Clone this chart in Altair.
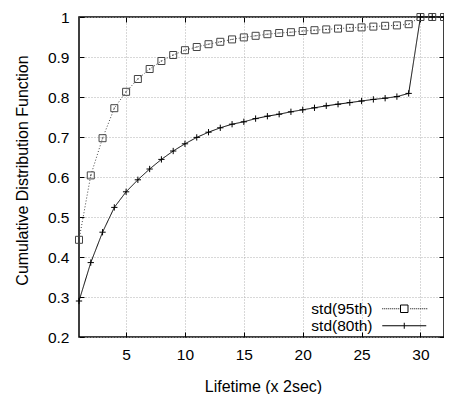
import altair as alt
import pandas as pd

# ---- data ----
lifetime = list(range(1, 33))
std95 = [0.443, 0.604, 0.697, 0.772, 0.813, 0.845, 0.870, 0.890, 0.905, 0.917,
         0.925, 0.932, 0.938, 0.944, 0.949, 0.953, 0.957, 0.960, 0.962, 0.965,
         0.967, 0.969, 0.971, 0.973, 0.974, 0.976, 0.978, 0.979, 0.982, 1.0,
         1.0, 1.0]
std80 = [0.290, 0.386, 0.462, 0.524, 0.563, 0.593, 0.620, 0.644, 0.665, 0.683,
         0.699, 0.712, 0.723, 0.732, 0.738, 0.746, 0.752, 0.757, 0.763, 0.768,
         0.773, 0.778, 0.782, 0.786, 0.790, 0.794, 0.797, 0.801, 0.809, 1.0,
         1.0, 1.0]
series_names = ["std(95th)", "std(80th)"]
x_ticks = [5, 10, 15, 20, 25, 30]
y_ticks = [0.2, 0.3, 0.4, 0.5, 0.6, 0.7, 0.8, 0.9, 1.0]

df = pd.DataFrame({
    "lifetime": lifetime * 2,
    "cdf": std95 + std80,
    "series": [series_names[0]] * len(lifetime) + [series_names[1]] * len(lifetime),
})

FONT = "Liberation Sans"
W, H = 365, 320

# ---- marker / legend symbol paths (style) ----
square_path = "M-1,-1H1V1H-1Z M-0.2,0H0.2"
plus_path = "M-0.9,0H0.9M0,-0.9V0.9"

dots = []
xpos = -4.4
while xpos < 4.4:
    if abs(xpos) > 1.0 and abs(xpos + 0.2) > 1.0:
        dots.append("M%.2f,0H%.2f" % (xpos, xpos + 0.2))
    xpos += 0.4
leg95_path = " ".join(dots) + " M-0.75,-0.75H0.75V0.75H-0.75Z"
leg80_path = "M-4.4,0H4.4M0,-0.6V0.6"


def tick_axis(orient, values):
    return alt.Axis(orient=orient, values=values, offset={"expr": "-5"},
                    ticks=True, tickSize=5, tickColor="black", tickWidth=1,
                    labels=False, grid=False, domain=False, title=None)


x_main = alt.X("lifetime:Q",
               scale=alt.Scale(domain=[1, 32], nice=False, zero=False),
               axis=alt.Axis(orient="bottom", values=x_ticks, title="Lifetime (x 2sec)",
                             titleX=184, titleY=49, titleBaseline="middle",
                             titleAlign="center"))
y_main = alt.Y("cdf:Q",
               scale=alt.Scale(domain=[0.2, 1.0], nice=False, zero=False),
               axis=alt.Axis(orient="left", values=y_ticks, format="~g",
                             title="Cumulative Distribution Function",
                             titleX=-56.5, titleY=153, titleAngle=270,
                             titleBaseline="middle", titleAlign="center"))

color_scale = alt.Scale(domain=series_names, range=["#444444", "#000000"])

lines = alt.Chart(df).mark_line(strokeWidth=1, clip=False).encode(
    x=x_main, y=y_main,
    color=alt.Color("series:N", scale=color_scale, legend=None),
    strokeDash=alt.StrokeDash("series:N",
                              scale=alt.Scale(domain=series_names, range=[[1, 2], [1, 0]]),
                              legend=None),
)

points = alt.Chart(df).mark_point(filled=False, strokeWidth=1, size=49, opacity=1, clip=False).encode(
    x=alt.X("lifetime:Q", axis=tick_axis("top", x_ticks)),
    y=alt.Y("cdf:Q", axis=tick_axis("right", y_ticks)),
    color=alt.Color("series:N", scale=color_scale, legend=None),
    shape=alt.Shape("series:N",
                    scale=alt.Scale(domain=series_names, range=[square_path, plus_path]),
                    legend=None),
)

legend_layer = alt.Chart(df).mark_point(filled=False, opacity=0).encode(
    x=alt.X("lifetime:Q", axis=tick_axis("bottom", x_ticks)),
    y=alt.Y("cdf:Q", axis=tick_axis("left", y_ticks)),
    shape=alt.Shape("series:N",
                    scale=alt.Scale(domain=series_names, range=[leg95_path, leg80_path]),
                    legend=alt.Legend(orient="none", legendX=317.5, legendY=284,
                                      title=None, labelAlign="right",
                                      labelOffset={"expr": "-39.5"},
                                      labelFont=FONT, labelFontSize=15.5, labelColor="black",
                                      symbolSize=100, symbolStrokeWidth=1,
                                      symbolOpacity=1, symbolStrokeColor="black",
                                      symbolFillColor="transparent", rowPadding=0,
                                      padding=0)),
)

chart = alt.layer(lines, points, legend_layer).resolve_scale(
    shape="independent"
).resolve_axis(
    x="independent", y="independent"
).properties(
    width=W, height=H,
    autosize=alt.AutoSizeParams(type="none"),
    padding={"left": 71, "top": 9, "right": 0, "bottom": 57},
).configure_view(
    stroke="black", strokeWidth=1.5
).configure_axis(
    grid=True, gridDash=[1, 2], gridColor="#b0b0b0", gridWidth=1,
    domain=False, ticks=False,
    labelFont=FONT, labelFontSize=15.5, labelColor="black", labelPadding=10,
    titleFont=FONT, titleFontSize=16, titleFontWeight="normal", titleColor="black",
)

chart.save("out.html", embed_options={"renderer": "svg", "actions": False})
